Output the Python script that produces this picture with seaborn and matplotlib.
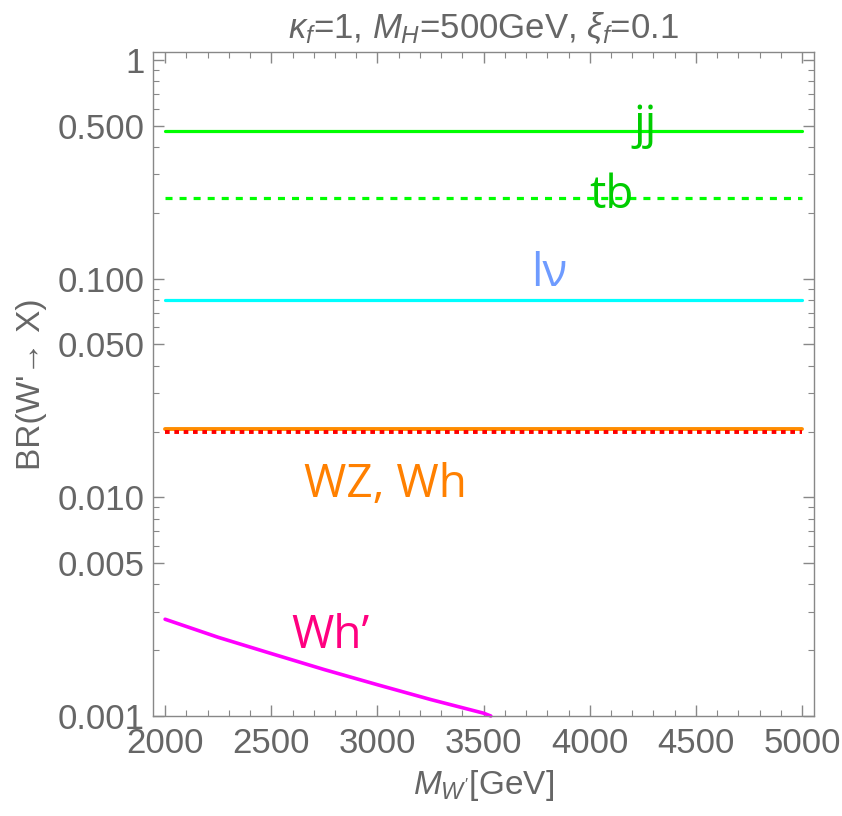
import numpy as np
import pandas as pd
import matplotlib
matplotlib.use("Agg")
import matplotlib.pyplot as plt
import seaborn as sns

# ---- data ----
mass_flat = [2000, 5000]
br_jj = [0.473, 0.473]
br_tb = [0.234, 0.234]
br_lv = [0.080, 0.080]
br_wz = [0.0205, 0.0205]
br_wh = [0.0198, 0.0198]
mass_whp = [2000, 2250, 2500, 2750, 3000, 3250, 3500, 3534]
br_whp = [0.00277, 0.00229, 0.00193, 0.00163, 0.00139, 0.00119, 0.00103, 0.00100]

y_ticks = [0.001, 0.005, 0.010, 0.050, 0.100, 0.500, 1]
y_ticklabels = ["0.001", "0.005", "0.010", "0.050", "0.100", "0.500", "1"]
x_ticks = [2000, 2500, 3000, 3500, 4000, 4500, 5000]

sns.set_style("ticks")
plt.rcParams['font.family'] = ['Liberation Sans', 'DejaVu Sans']
plt.rcParams['mathtext.fontset'] = 'custom'
plt.rcParams['mathtext.rm'] = 'Liberation Sans'
plt.rcParams['mathtext.it'] = 'Liberation Sans:italic'

gray = "#666666"
fig = plt.figure(figsize=(8.42, 8.16), dpi=100)
ax = fig.add_axes([153/842, 100/816, (814-153)/842, (716-52)/816])

def df(x, y):
    return pd.DataFrame({"x": x, "y": y})

sns.lineplot(data=df(mass_flat, br_jj), x="x", y="y", ax=ax, color="#00ff00", lw=2.3)
sns.lineplot(data=df(mass_flat, br_tb), x="x", y="y", ax=ax, color="#00ff00", lw=2.3)
ax.lines[-1].set_linestyle((0, (2.2, 2.2)))
sns.lineplot(data=df(mass_flat, br_lv), x="x", y="y", ax=ax, color="#00ffff", lw=2.3)
sns.lineplot(data=df(mass_flat, br_wz), x="x", y="y", ax=ax, color="#ff8c00", lw=2.8)
sns.lineplot(data=df(mass_flat, br_wh), x="x", y="y", ax=ax, color="#ff0000", lw=2.8)
ax.lines[-1].set_linestyle((0, (1.2, 1.2)))
sns.lineplot(data=df(mass_whp, br_whp), x="x", y="y", ax=ax, color="#ff00ff", lw=2.6)
for ln in ax.lines:
    ln.set_clip_on(False)

ax.set_yscale("log")
ax.set_xlim(1943, 5056)
ax.set_ylim(0.001, 1.088)
ax.set_yticks(y_ticks)
ax.set_yticklabels(y_ticklabels)
ax.set_xticks(x_ticks)
ax.set_xticks(np.arange(2000, 5001, 100), minor=True)
ax.yaxis.set_minor_locator(matplotlib.ticker.LogLocator(base=10, subs=np.arange(2, 10)))
ax.yaxis.set_minor_formatter(matplotlib.ticker.NullFormatter())

for s in ax.spines.values():
    s.set_visible(True)
    s.set_color("#888888")
    s.set_linewidth(1.0)
ax.tick_params(which="both", direction="in", top=True, right=True, colors="#888888",
               labelcolor=gray, labelsize=25)
ax.tick_params(which="major", length=8, width=1.0)
ax.tick_params(which="minor", length=4, width=0.8)
ax.tick_params(axis="x", which="major", pad=8)
ax.tick_params(axis="y", which="major", pad=6)

ax.set_xlabel(r"$M_{W'}$[GeV]", fontsize=24, color=gray, labelpad=6)
ax.set_ylabel("BR(W'→ X)", fontsize=24, color=gray, labelpad=8)
ax.set_title(r"$\kappa_f$=1, $M_H$=500GeV, $\xi_f$=0.1", fontsize=25, color=gray, pad=10)

lab = dict(fontfamily=['Open Sans', 'DejaVu Sans'], ha="center", va="center", fontsize=33)
ax.text(4260, 0.50, "jj", color="#00cc00", **lab)
ax.text(4100, 0.24, "tb", color="#00cc00", **lab)
ax.text(3810, 0.105, "lν", color="#6e9bff", **lab)
ax.text(3040, 0.0114, "WZ, Wh", color="#ff8000", **lab)
ax.text(2780, 0.00232, "Wh’", color="#ff0080", **lab)

fig.savefig("out.png", dpi=100)
